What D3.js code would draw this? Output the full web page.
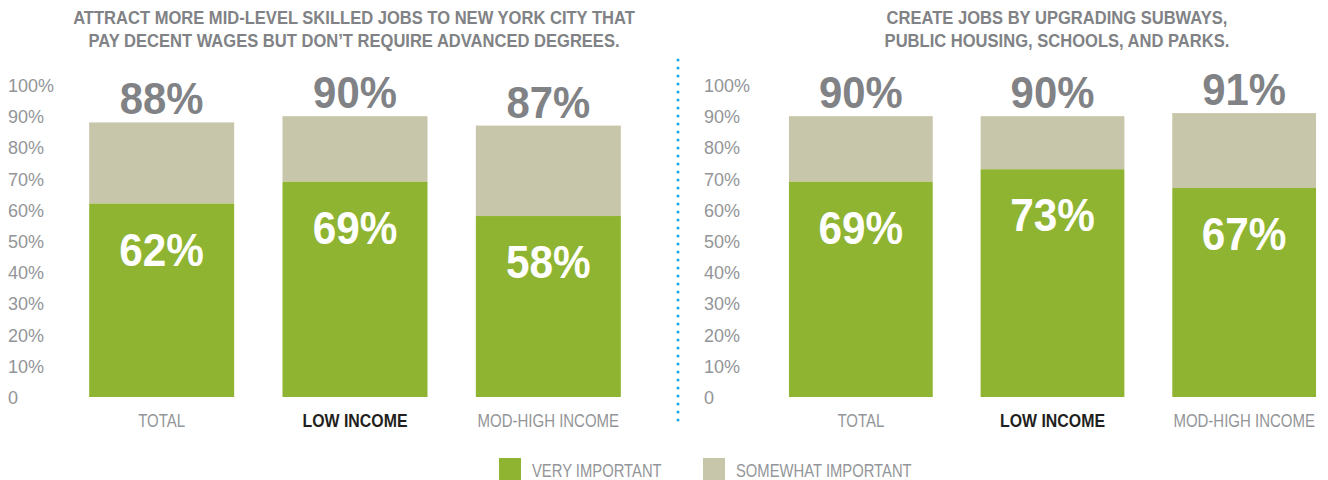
<!DOCTYPE html>
<html>
<head>
<meta charset="utf-8">
<script src="https://cdn.jsdelivr.net/npm/d3@7"></script>
<style>
  html, body { margin: 0; padding: 0; background: #fff; }
  svg { display: block; }
  text { font-family: "Liberation Sans", Arial, sans-serif; }
</style>
</head>
<body>
<svg id="chart" width="1328" height="480"></svg>
<script>
// data
var categories = ["TOTAL", "LOW INCOME", "MOD-HIGH INCOME"];
var leftTitle = ["ATTRACT MORE MID-LEVEL SKILLED JOBS TO NEW YORK CITY THAT",
                 "PAY DECENT WAGES BUT DON\u2019T REQUIRE ADVANCED DEGREES."];
var rightTitle = ["CREATE JOBS BY UPGRADING SUBWAYS,",
                  "PUBLIC HOUSING, SCHOOLS, AND PARKS."];
var leftVery = [62, 69, 58];
var leftTotal = [88, 90, 87];
var rightVery = [69, 73, 67];
var rightTotal = [90, 90, 91];
var tickValues = [0, 10, 20, 30, 40, 50, 60, 70, 80, 90, 100];
var legendLabels = ["VERY IMPORTANT", "SOMEWHAT IMPORTANT"];

var green = "#8fb431";
var beige = "#c8c6aa";
var grey = "#808285";
var tickGrey = "#939598";

var svg = d3.select("#chart");

var y = d3.scaleLinear().domain([0, 100]).range([397, 85]);

// squeeze text horizontally around its x anchor (no condensed font installed)
var squeeze = function (sel, k) {
  sel.attr("transform", function () {
    var x = +this.getAttribute("x") || 0;
    return "translate(" + x + ",0) scale(" + k + ",1) translate(" + (-x) + ",0)";
  });
};

var drawPanel = function (opts) {
  var g = svg.append("g");

  var x = d3.scaleBand()
    .domain(categories)
    .range(opts.xRange)
    .paddingInner(0.25)
    .paddingOuter(0.125);

  // title
  g.selectAll(".title")
    .data(opts.title)
    .enter().append("text")
    .attr("class", "title")
    .attr("x", opts.titleX)
    .attr("y", (d, i) => 24 + i * 23)
    .attr("text-anchor", "middle")
    .style("font-weight", "bold")
    .style("font-size", "18px")
    .style("fill", grey)
    .text(d => d)
    .call(squeeze, 0.92);

  // y axis, labels only
  var axis = d3.axisLeft(y)
    .tickValues(tickValues)
    .tickSize(0)
    .tickFormat(d => d == 0 ? "0" : d + "%");
  var ax = g.append("g")
    .attr("transform", "translate(" + opts.axisX + ",0)")
    .call(axis);
  ax.select(".domain").remove();
  ax.selectAll("text")
    .attr("x", 0)
    .attr("dy", "0.36em")
    .attr("text-anchor", "start")
    .style("font-family", "\"Liberation Sans\", Arial, sans-serif")
    .style("font-size", "18px")
    .style("fill", tickGrey);

  var rows = categories.map((c, i) => ({cat: c, very: opts.very[i], total: opts.total[i]}));

  // somewhat important (top part)
  g.selectAll(".some")
    .data(rows)
    .enter().append("rect")
    .attr("class", "some")
    .attr("x", d => x(d.cat))
    .attr("width", x.bandwidth())
    .attr("y", d => y(d.total))
    .attr("height", d => y(d.very) - y(d.total))
    .style("fill", beige);

  // very important
  g.selectAll(".very")
    .data(rows)
    .enter().append("rect")
    .attr("class", "very")
    .attr("x", d => x(d.cat))
    .attr("width", x.bandwidth())
    .attr("y", d => y(d.very))
    .attr("height", d => y(0) - y(d.very))
    .style("fill", green);

  // total labels
  g.selectAll(".totLabel")
    .data(rows)
    .enter().append("text")
    .attr("class", "totLabel")
    .attr("x", d => x(d.cat) + x.bandwidth() / 2)
    .attr("y", d => y(d.total) - 8)
    .attr("text-anchor", "middle")
    .style("font-weight", "bold")
    .style("font-size", "45px")
    .style("fill", grey)
    .text(d => d.total + "%")
    .call(squeeze, 0.93);

  // very labels
  g.selectAll(".veryLabel")
    .data(rows)
    .enter().append("text")
    .attr("class", "veryLabel")
    .attr("x", d => x(d.cat) + x.bandwidth() / 2)
    .attr("y", d => y(d.very) + 62)
    .attr("text-anchor", "middle")
    .style("font-weight", "bold")
    .style("font-size", "46px")
    .style("fill", "#fff")
    .text(d => d.very + "%")
    .call(squeeze, 0.92);

  // category labels
  g.selectAll(".catLabel")
    .data(rows)
    .enter().append("text")
    .attr("class", "catLabel")
    .attr("x", d => x(d.cat) + x.bandwidth() / 2)
    .attr("y", 427)
    .attr("text-anchor", "middle")
    .style("font-size", "18.5px")
    .style("font-weight", d => d.cat == "LOW INCOME" ? "bold" : "normal")
    .style("fill", d => d.cat == "LOW INCOME" ? "#231f20" : tickGrey)
    .text(d => d.cat)
    .each(function (d) {
      d3.select(this).call(squeeze, d.cat == "LOW INCOME" ? 0.86 : 0.81);
    });
};

drawPanel({
  title: leftTitle, titleX: 354,
  axisX: 8, xRange: [65, 645],
  very: leftVery, total: leftTotal
});

drawPanel({
  title: rightTitle, titleX: 1057,
  axisX: 704, xRange: [765, 1340],
  very: rightVery, total: rightTotal
});

// dotted divider
svg.append("line")
  .attr("x1", 678).attr("x2", 678)
  .attr("y1", 60).attr("y2", 428)
  .style("stroke", "#1ba6e4")
  .style("stroke-width", 3)
  .style("stroke-linecap", "round")
  .style("stroke-dasharray", "0 8");

// legend
var legendX = [499, 703];
var legendColors = [green, beige];
var leg = svg.selectAll(".legend")
  .data(legendLabels)
  .enter().append("g")
  .attr("class", "legend")
  .attr("transform", (d, i) => "translate(" + legendX[i] + ",458)");
leg.append("rect")
  .attr("width", 22).attr("height", 22)
  .style("fill", (d, i) => legendColors[i]);
leg.append("text")
  .attr("x", 33)
  .attr("y", 19)
  .style("font-size", "18.5px")
  .style("fill", tickGrey)
  .text(d => d)
  .call(squeeze, 0.8);
</script>
</body>
</html>
